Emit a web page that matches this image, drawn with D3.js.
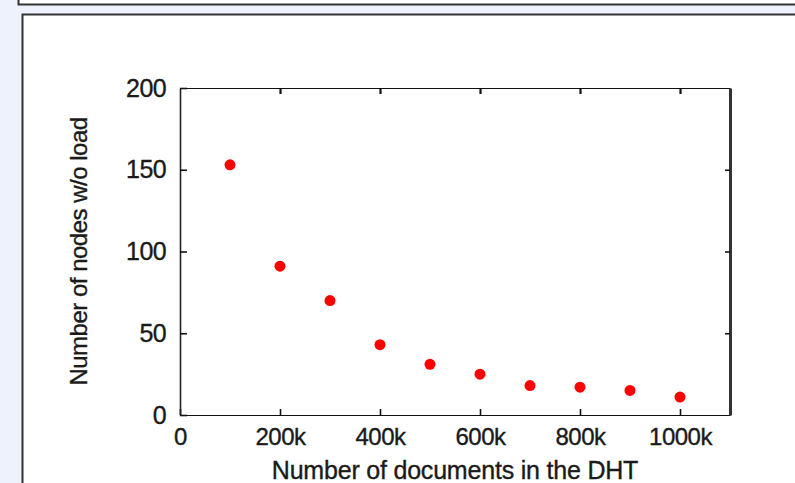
<!DOCTYPE html>
<html>
<head>
<meta charset="utf-8">
<script src="https://cdn.jsdelivr.net/npm/d3@7"></script>
<style>
  html, body { margin: 0; padding: 0; background: #eef2fd; }
  svg { display: block; }
  text { font-family: "Liberation Sans", Arial, Helvetica, sans-serif; fill: #1a1a1a; stroke: #1a1a1a; stroke-width: 0.35px; }
</style>
</head>
<body>
<div id="chart"></div>
<script>
// data
const docCounts = [100000, 200000, 300000, 400000, 500000, 600000, 700000, 800000, 900000, 1000000];
const idleNodes = [153, 91, 70, 43, 31, 25, 18, 17, 15, 11];
const xTicks = [0, 200000, 400000, 600000, 800000, 1000000];
const yTicks = [0, 50, 100, 150, 200];
const xLabel = 'Number of documents in the DHT';
const yLabel = 'Number of nodes w/o load';

const width = 795;
const height = 483;
const plot = { left: 180, right: 730, top: 88, bottom: 415 };

const svg = d3.select('#chart')
    .append('svg')
    .attr('width', width)
    .attr('height', height);

// background frames (page panels)
svg.append('rect')
    .attr('x', 0).attr('y', 0)
    .attr('width', width).attr('height', height)
    .attr('fill', '#eef2fd');

svg.append('rect')
    .attr('x', 18.5).attr('y', -20)
    .attr('width', width).attr('height', 24.5)
    .attr('fill', '#fff')
    .attr('stroke', '#333')
    .attr('stroke-width', 2);

svg.append('rect')
    .attr('x', 22.5).attr('y', 14.5)
    .attr('width', width).attr('height', height)
    .attr('fill', '#fff')
    .attr('stroke', '#333')
    .attr('stroke-width', 2);

// scales
const x = d3.scaleLinear()
    .domain([0, 1100000])
    .range([plot.left, plot.right]);

const y = d3.scaleLinear()
    .domain([0, 200])
    .range([plot.bottom, plot.top]);

const fmtX = d => d === 0 ? '0' : (d / 1000) + 'k';

// bottom axis, ticks pointing inward
const xAxis = svg.append('g')
    .attr('transform', `translate(0,${plot.bottom})`)
    .call(d3.axisBottom(x).tickValues(xTicks).tickFormat(fmtX)
        .tickSizeInner(-6).tickSizeOuter(0).tickPadding(13));

// top axis mirror ticks
const xTop = svg.append('g')
    .attr('transform', `translate(0,${plot.top})`)
    .call(d3.axisTop(x).tickValues(xTicks).tickFormat('')
        .tickSizeInner(-6).tickSizeOuter(0));

// left axis
const yAxis = svg.append('g')
    .attr('transform', `translate(${plot.left},0)`)
    .call(d3.axisLeft(y).tickValues(yTicks)
        .tickSizeInner(-7).tickSizeOuter(0).tickPadding(14));

// right axis mirror ticks
const yRight = svg.append('g')
    .attr('transform', `translate(${plot.right},0)`)
    .call(d3.axisRight(y).tickValues(yTicks).tickFormat('')
        .tickSizeInner(-5).tickSizeOuter(0));

xAxis.selectAll('text').attr('font-size', '24px').style('letter-spacing', '-0.5px');
yAxis.selectAll('text').attr('font-size', '25px').style('letter-spacing', '-0.6px');

xAxis.select('.domain').attr('stroke', '#111').attr('stroke-width', 1.2);
xTop.select('.domain').attr('stroke', '#111').attr('stroke-width', 1.2);
yAxis.select('.domain').attr('stroke', '#222').attr('stroke-width', 1.6);
yRight.select('.domain').attr('stroke', '#333').attr('stroke-width', 3);

svg.selectAll('.tick line').attr('stroke', '#111').attr('stroke-width', 1.6);
xTop.selectAll('.tick line').attr('stroke-width', 2.2);

// remove 0/200 ticks where they overlap the frame
xTop.selectAll('.tick').filter(d => d === 0).remove();
yRight.selectAll('.tick').filter(d => d === 0 || d === 200).remove();

// points
svg.append('g')
    .selectAll('circle')
    .data(docCounts)
    .enter()
    .append('circle')
    .attr('cx', d => x(d))
    .attr('cy', (d, i) => y(idleNodes[i]))
    .attr('r', 5.5)
    .attr('fill', '#ff0000');

// axis titles
svg.append('text')
    .attr('x', (plot.left + plot.right) / 2)
    .attr('y', 479)
    .attr('text-anchor', 'middle')
    .attr('font-size', '25px')
    .style('letter-spacing', '-0.2px')
    .text(xLabel);

svg.append('text')
    .attr('transform', `translate(87,${(plot.top + plot.bottom) / 2}) rotate(-90)`)
    .attr('text-anchor', 'middle')
    .attr('font-size', '24px')
    .style('letter-spacing', '-0.5px')
    .text(yLabel);
</script>
</body>
</html>
